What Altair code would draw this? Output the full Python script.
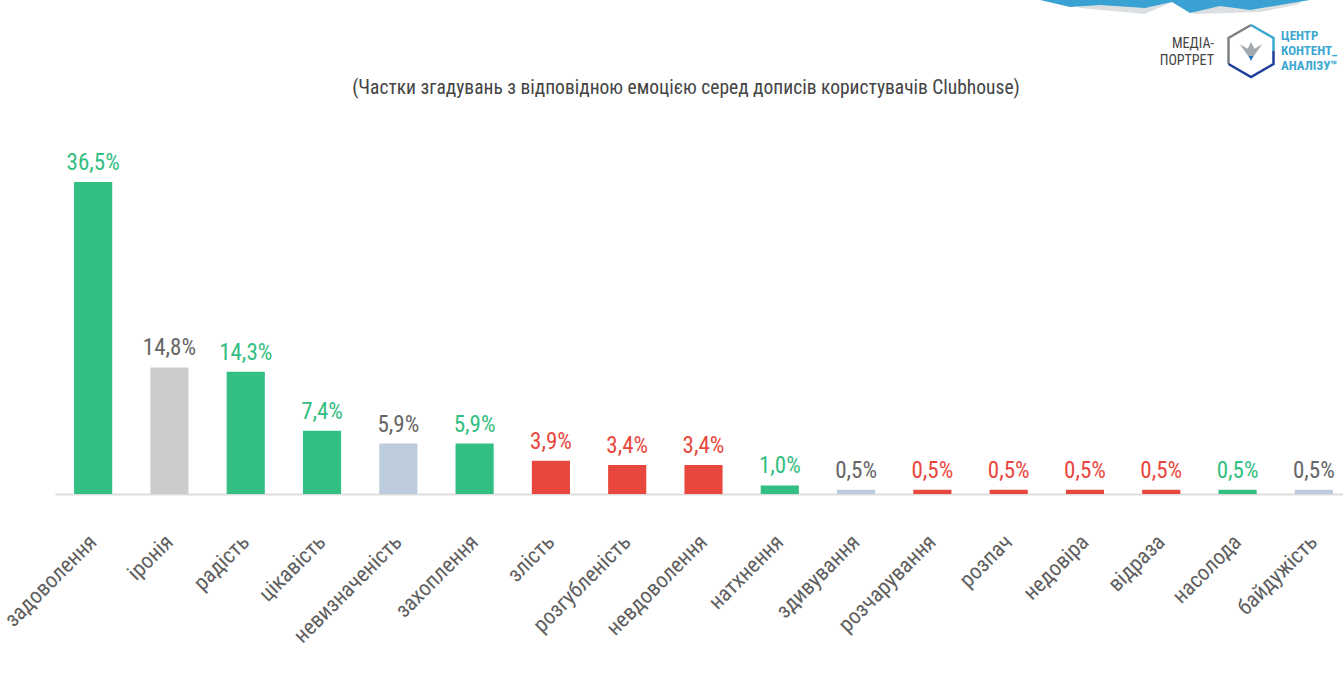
import altair as alt
import pandas as pd

categories = ["задоволення", "іронія", "радість", "цікавість", "невизначеність",
              "захоплення", "злість", "розгубленість", "невдоволення", "натхнення",
              "здивування", "розчарування", "розпач", "недовіра", "відраза",
              "насолода", "байдужість"]
values = [36.5, 14.8, 14.3, 7.4, 5.9, 5.9, 3.9, 3.4, 3.4, 1.0,
          0.5, 0.5, 0.5, 0.5, 0.5, 0.5, 0.5]
groups = ["pos", "irony", "pos", "pos", "neu", "pos", "neg", "neg", "neg", "pos",
          "neu", "neg", "neg", "neg", "neg", "pos", "neu"]
labels = [f"{v:.1f}%".replace(".", ",") for v in values]

title_text = "(Частки згадувань з відповідною емоцією серед дописів користувачів Clubhouse)"

FONT = "Roboto Condensed, Liberation Sans Narrow, Roboto, sans-serif"

df = pd.DataFrame({"cat": categories, "val": values, "grp": groups, "lbl": labels})

grp_domain = ["pos", "irony", "neu", "neg"]
bar_colors = ["#33BE82", "#CCCCCC", "#BCCCDD", "#E8473D"]
text_colors = ["#33BE82", "#666666", "#666666", "#E8473D"]

W, H = 1288, 342
TOP, LEFT = 152, 55
x = alt.X("cat:N", sort=categories, title=None,
          scale=alt.Scale(range=[0, 1297], paddingInner=0.5, paddingOuter=0.25),
          axis=alt.Axis(labelAngle=-45, labelAlign="right", labelBaseline="middle",
                        labelPadding=44, labelFontSize=22, labelFont=FONT,
                        labelColor="#5F5F5F", ticks=False, domainColor="#DDDDDD",
                        domainWidth=2, labelOverlap=False, labelLimit=300))
y = alt.Y("val:Q", scale=alt.Scale(domain=[0, 40]), axis=None)

base = alt.Chart(df)
bars = base.mark_bar().encode(
    x=x, y=y,
    color=alt.Color("grp:N", scale=alt.Scale(domain=grp_domain, range=bar_colors), legend=None),
)
txt = base.mark_text(baseline="alphabetic", dy=-12, fontSize=23, font=FONT).encode(
    x=x, y=y, text="lbl:N",
    color=alt.Color("grp:N", scale=alt.Scale(domain=grp_domain, range=text_colors), legend=None),
)

one = alt.Data(values=[{"a": 1}])


def label(t, px, py, **kw):
    return alt.Chart(one).mark_text(font=FONT, baseline="middle", **kw).encode(
        x=alt.value(px - LEFT), y=alt.value(py - TOP), text=alt.value(t))


def glyph(path, px, py, size, **kw):
    return alt.Chart(one).mark_point(shape=path, size=size, opacity=1, **kw).encode(
        x=alt.value(px - LEFT), y=alt.value(py - TOP))


title = label(title_text, 686, 88, fontSize=19.5, color="#444444")
logo = [
    label("МЕДІА-", 1214, 44, fontSize=14, color="#444444", align="right"),
    label("ПОРТРЕТ", 1214, 61, fontSize=14, color="#444444", align="right"),
    label("ЦЕНТР", 1281, 36, fontSize=13, fontWeight="bold", color="#3BA8D0", align="left"),
    label("КОНТЕНТ_", 1281, 51, fontSize=13, fontWeight="bold", color="#3BA8D0", align="left"),
    label("АНАЛІЗУ™", 1281, 66, fontSize=13, fontWeight="bold", color="#3BA8D0", align="left"),
    glyph("M-0.866,0.5L-0.866,-0.5L0,-1", 1251, 51, 2700, filled=False, color="#7E8287", strokeWidth=2.5),
    glyph("M0,-1L0.866,-0.5L0.866,0", 1251, 51, 2700, filled=False, color="#3BA8D0", strokeWidth=2.5),
    glyph("M0.866,0L0.866,0.5L0,1L-0.866,0.5", 1251, 51, 2700, filled=False, color="#1F3F9A", strokeWidth=2.5),
    glyph("M-1,-0.6L-0.3,-0.2L0,-0.8L0.3,-0.2L1,-0.6L0,0.8Z", 1251, 51, 500, filled=True, color="#A3AAB0"),
    glyph("M-0.6,-0.5L0.6,-0.5L0,0.8Z", 1251, 58, 60, filled=True, color="#1F6FC0"),
    # decorative wave banner at the top
    glyph("M-0.85,0L-0.7,0.06L-0.55,0.074L-0.222,0.104L-0.022,0.015L0.148,0.104L0.63,0.089L0.926,0.03L0.93,0Z",
          1175, 0, 72900, filled=True, color="#DCDFE2"),
    glyph("M-1,0L1,0L0.778,0.037L0.556,0.074L0.333,0.044L0.111,0.096L-0.022,0.015L-0.222,0.059L-0.556,0.037L-0.778,0.052Z",
          1175, 0, 72900, filled=True, color="#3AA2D2"),
]

chart = alt.layer(bars, txt, title, *logo).resolve_scale(
    color="independent"
).properties(
    width=W, height=H,
    autosize=alt.AutoSizeParams(type="none"),
    padding={"left": LEFT, "top": TOP, "right": 0, "bottom": 197},
    background="white",
).configure_view(stroke=None)

chart.save("out.html", embed_options={"renderer": "svg", "actions": False})
